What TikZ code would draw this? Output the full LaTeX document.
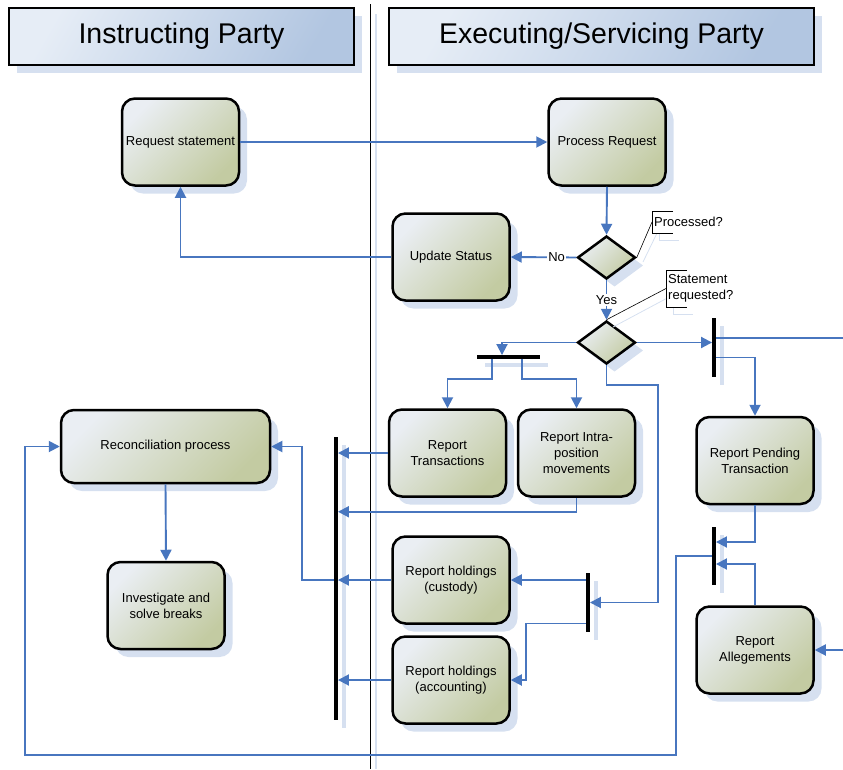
\documentclass[tikz,border=0pt]{standalone}
\usepackage{fontspec}
\setmainfont{Liberation Sans}
\usetikzlibrary{shapes.geometric,shadows,arrows.meta}

\definecolor{flowblue}{RGB}{72,118,191}
\definecolor{shadowblue}{RGB}{214,224,240}
\definecolor{boxlight}{RGB}{234,238,243}
\definecolor{boxolive}{RGB}{195,203,162}
\definecolor{headlight}{RGB}{230,237,246}
\definecolor{headblue}{RGB}{178,198,225}

\tikzset{
  softshadow/.style={drop shadow={shadow xshift=8pt, shadow yshift=-8pt, fill=shadowblue, opacity=1}},
  header/.style={rectangle, draw=black, line width=2pt, top color=headlight, bottom color=headblue, shading angle=60,
    softshadow, inner sep=0pt, font=\fontsize{28.5}{32}\selectfont},
  task/.style={rectangle, rounded corners=13pt, draw=black, line width=2.5pt, top color=boxlight, bottom color=boxolive,
    shading angle=45, softshadow, align=center, inner sep=0pt, minimum width=117, minimum height=87,
    font=\fontsize{13}{16}\selectfont},
  choice/.style={diamond, draw=black, line width=2.5pt, top color=boxlight, bottom color=boxolive, shading angle=45,
    softshadow, inner sep=0pt, minimum width=58, minimum height=43},
  vbar/.style={rectangle, fill=black, inner sep=0pt, minimum width=3.5, softshadow},
  hbar/.style={rectangle, fill=black, inner sep=0pt, minimum height=3.5, softshadow},
  note/.style={rectangle, fill=white, inner xsep=2pt, inner ysep=0pt, anchor=west, align=left,
    font=\fontsize{13}{16}\selectfont},
  lbl/.style={fill=white, inner sep=1pt, font=\fontsize{13}{16}\selectfont},
  callout/.style={draw=black, line width=0.6pt},
  flowline/.style={draw=flowblue, line width=1.9pt},
  flow/.style={flowline, -{Triangle[length=11pt,width=11pt]}},
}

\begin{document}
\begin{tikzpicture}[x=1pt, y=-1pt]
\useasboundingbox (0,0) rectangle (843,769);

% lane separator
\draw[shadowblue, line width=1.5pt] (376,14) -- (376,769);
\draw[black, line width=0.8pt] (370,4) -- (370,769);

% lane headers
\node[header, minimum width=345, minimum height=57] (instr) at (181.5,36.5) {Instructing Party};
\node[header, minimum width=425, minimum height=57] (exec) at (601.5,36.5) {Executing/Servicing Party};

% tasks
\node[task] (reqst) at (180.5,142) {Request statement};
\node[task] (procreq) at (607,142) {Process Request};
\node[task] (updst) at (451,257) {Update Status};
\node[task] (rtrans) at (447.5,453) {Report\\Transactions};
\node[task] (rintra) at (576.5,453) {Report Intra-\\position\\movements};
\node[task] (rpend) at (755,460.5) {Report Pending\\Transaction};
\node[task] (custody) at (451,580) {Report holdings\\(custody)};
\node[task] (account) at (451,680) {Report holdings\\(accounting)};
\node[task] (alleg) at (755,650) {Report\\Allegements};
\node[task, minimum width=209, minimum height=73] (recon) at (165.5,446.5) {Reconciliation process};
\node[task] (invest) at (166,605.5) {Investigate and\\solve breaks};

% decisions
\node[choice] (proc) at (606.5,257.5) {};
\node[choice] (streq) at (606.5,342.5) {};

% annotations
\draw[shadowblue, line width=0.8pt] (643,262) -- (659,229);
\draw[shadowblue, line width=0.8pt] (679,218) -- (659,218) -- (659,240) -- (679,240);
\node[note, minimum height=22] (procq) at (652,222) {Processed?};
\draw[callout] (673,211) -- (652,211) -- (652,233) -- (673,233);
\draw[callout] (proc.east) -- (652,222);

\draw[shadowblue, line width=0.8pt] (613,327) -- (673,295);
\draw[shadowblue, line width=0.8pt] (693,277) -- (673,277) -- (673,314) -- (693,314);
\node[note, minimum height=37] (stq) at (666,288.5) {Statement\\requested?};
\draw[callout] (687,270) -- (666,270) -- (666,307) -- (687,307);
\draw[callout] (streq.north) -- (666,288.5);

% bars
\node[hbar, minimum width=63] (join1) at (508,357) {};
\node[vbar, minimum height=59] (fork1) at (714,347.5) {};
\node[vbar, minimum height=58] (join2) at (714,556) {};
\node[vbar, minimum height=59] (fork2) at (588,602.5) {};
\node[vbar, minimum height=283] (bigbar) at (336,578.5) {};

\coordinate (outtop) at (843,338);
\coordinate (inalleg) at (843,650);
\coordinate (sidebend) at (658,385);
\coordinate (loopcorner) at (25,755);

% connectors
\draw[flow] (reqst.east) -- (procreq.west);
\draw[flow] (procreq.south) -- (proc.north);
\draw[flow] (proc.west) -- node[lbl, pos=0.3] (nolbl) {No} (updst.east);
\draw[flow] (updst.west) -| (reqst.south);
\draw[flow] (proc.south) -- node[lbl] (yeslbl) {Yes} (streq.north);
\draw[flow] (streq.west) -| ([xshift=-6pt]join1.north);
\draw[flow] ([xshift=-16pt]join1.south) -- ++(0,20) -| (rtrans.north);
\draw[flow] ([xshift=14pt]join1.south) -- ++(0,20) -| (rintra.north);
\draw[flow] (streq.east) -- (streq.east -| fork1.west);
\draw[flowline] (outtop -| fork1.east) -- (outtop);
\draw[flow] ([yshift=-10pt]fork1.east) -| (rpend.north);
\draw[flow] (streq.south) |- (sidebend) |- (fork2.east);
\draw[flow] (fork2.west |- custody.east) -- (custody.east);
\draw[flow] ([yshift=-21pt]fork2.west) -- ++(-60,0) |- (account.east);
\draw[flow] (rtrans.west) -- (rtrans.west -| bigbar.east);
\path (rintra.south) ++(0,14) coordinate (intrabend);
\draw[flow] (rintra.south) -- (intrabend) -- (intrabend -| bigbar.east);
\draw[flow] (custody.west) -- (custody.west -| bigbar.east);
\draw[flow] (account.west) -- (account.west -| bigbar.east);
\draw[flow] (custody.west -| bigbar.west) -- ++(-32,0) |- (recon.east);
\draw[flow] (recon.south) -- (invest.north);
\draw[flow] (rpend.south) |- ([yshift=14pt]join2.east);
\draw[flow] (alleg.north) |- ([yshift=-8pt]join2.east);
\draw[flow] (join2.west) -- ++(-36,0) |- (loopcorner) |- (recon.west);
\draw[flow] (inalleg) -- (alleg.east);

\end{tikzpicture}
\end{document}
